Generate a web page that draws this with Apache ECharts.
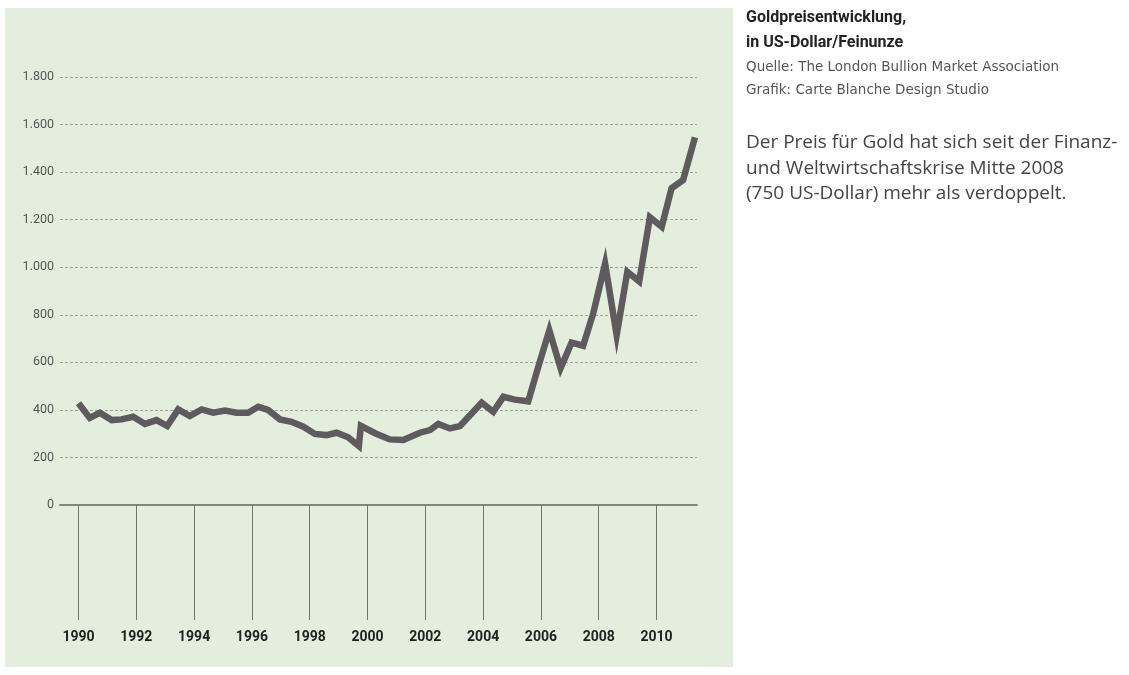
<!DOCTYPE html>
<html>
<head>
<meta charset="utf-8">
<script src="https://cdn.jsdelivr.net/npm/echarts@6/dist/echarts.min.js"></script>
<style>
  html, body { margin: 0; padding: 0; background: #fff; }
  #chart { width: 1129px; height: 675px; }
</style>
</head>
<body>
<div id="chart"></div>
<script>
// Zeitpunkte (Dezimaljahre) und Goldpreis in US-Dollar/Feinunze
const years = [
  1990.0, 1990.39, 1990.74, 1991.15, 1991.49, 1991.89, 1992.30, 1992.70, 1993.07, 1993.45,
  1993.85, 1994.26, 1994.66, 1995.07, 1995.47, 1995.87, 1996.22, 1996.56, 1996.97, 1997.37,
  1997.78, 1998.18, 1998.58, 1998.93, 1999.33, 1999.70, 1999.77, 2000.26, 2000.77, 2001.24,
  2001.81, 2002.16, 2002.45, 2002.85, 2003.20, 2003.95, 2004.35, 2004.70, 2005.10, 2005.56,
  2005.91, 2006.29, 2006.68, 2007.06, 2007.46, 2007.81, 2008.22, 2008.62, 2008.99, 2009.40,
  2009.77, 2010.18, 2010.52, 2010.92, 2011.33
];
const prices = [
  428, 366, 388, 357, 360, 371, 341, 357, 332, 402,
  374, 402, 388, 397, 388, 388, 413, 400, 360, 350,
  329, 299, 294, 304, 285, 248, 333, 302, 276, 273,
  304, 315, 341, 322, 332, 430, 392, 455, 443, 436,
  582, 735, 575, 683, 670, 806, 1015, 715, 981, 940,
  1210, 1170, 1332, 1367, 1546
];
const yearTicks = [1990, 1992, 1994, 1996, 1998, 2000, 2002, 2004, 2006, 2008, 2010];

const seriesData = years.map((y, i) => [y, prices[i]]);

const chart = echarts.init(document.getElementById('chart'));

const option = {
  backgroundColor: '#ffffff',
  animation: false,
  grid: {
    left: 60,
    right: 432,
    top: 77,
    bottom: 170
  },
  xAxis: {
    type: 'value',
    min: 1989.36,
    max: 2011.4,
    axisLine: { show: true, lineStyle: { color: '#7f8a7b', width: 2 } },
    axisTick: {
      show: true,
      customValues: yearTicks,
      length: 115,
      lineStyle: { color: '#6f756c', width: 1 }
    },
    axisLabel: {
      customValues: yearTicks,
      margin: 125,
      color: '#222',
      fontFamily: 'Roboto',
      fontWeight: 'bold',
      fontSize: 14,
      formatter: v => String(v)
    },
    splitLine: { show: false }
  },
  yAxis: {
    type: 'value',
    min: 0,
    max: 1800,
    interval: 200,
    axisLine: { show: false },
    axisTick: { show: false },
    axisLabel: {
      margin: 6,
      color: '#555',
      fontFamily: 'Roboto',
      fontSize: 12.5,
      formatter: v => v >= 1000 ? Math.floor(v / 1000) + '.' + String(v % 1000).padStart(3, '0') : String(v)
    },
    splitLine: { show: true, lineStyle: { color: '#9aa596', type: [3, 2], width: 1 } }
  },
  series: [{
    type: 'line',
    data: seriesData,
    showSymbol: false,
    lineStyle: { color: '#5e5a5d', width: 6.5, join: 'miter' },
    z: 5
  }],
  graphic: [
    { type: 'rect', z: -10, silent: true, shape: { x: 5, y: 8, width: 728, height: 659 }, style: { fill: '#e3efdc' } },
    { type: 'text', left: 746, top: 10, style: { text: 'Goldpreisentwicklung,', fontFamily: 'Roboto', fontWeight: 'bold', fontSize: 16, fill: '#222' } },
    { type: 'text', left: 746, top: 35, style: { text: 'in US-Dollar/Feinunze', fontFamily: 'Roboto', fontWeight: 'bold', fontSize: 16, fill: '#222' } },
    { type: 'text', left: 746, top: 60, style: { text: 'Quelle: The London Bullion Market Association', fontFamily: 'DejaVu Sans', fontSize: 13.5, fill: '#555' } },
    { type: 'text', left: 746, top: 83, style: { text: 'Grafik: Carte Blanche Design Studio', fontFamily: 'DejaVu Sans', fontSize: 13.5, fill: '#555' } },
    { type: 'text', left: 746, top: 133, style: { text: 'Der Preis für Gold hat sich seit der Finanz-', fontFamily: 'Open Sans', fontSize: 19, fill: '#444' } },
    { type: 'text', left: 746, top: 159, style: { text: 'und Weltwirtschaftskrise Mitte 2008', fontFamily: 'Open Sans', fontSize: 19, fill: '#444' } },
    { type: 'text', left: 746, top: 184, style: { text: '(750 US-Dollar) mehr als verdoppelt.', fontFamily: 'Open Sans', fontSize: 19, fill: '#444' } }
  ]
};

chart.setOption(option);
</script>
</body>
</html>
